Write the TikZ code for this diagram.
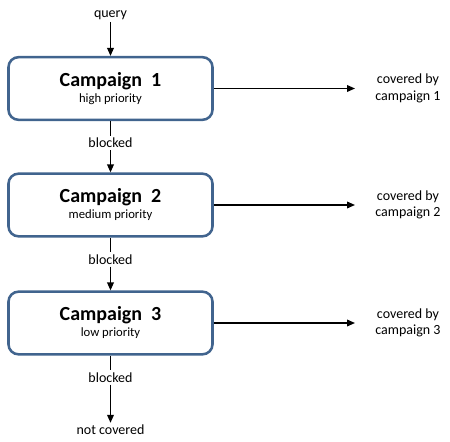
\documentclass[tikz,border=0pt]{standalone}
\usepackage{fontspec}
\setmainfont{Carlito}
\usetikzlibrary{arrows.meta,positioning}
\definecolor{frame}{RGB}{65,100,142}
\definecolor{ink}{RGB}{0,0,0}

\begin{document}
\begin{tikzpicture}[x=0.75pt,y=-0.75pt,
    campbox/.style={draw=frame,line width=1.9pt,rounded corners=7.5pt,fill=white,
      minimum width=153pt,minimum height=47pt,align=center,inner sep=0pt},
    lbl/.style={font=\fontsize{10.5}{12.5}\selectfont,inner sep=1.5pt,align=center},
    flow/.style={line width=1.1pt,ink},
    arr/.style={flow,-{Triangle[length=6pt,width=5pt]}}]
  \useasboundingbox (0,0) rectangle (450,442);
  % campaigns
  \foreach \i/\y/\p in {1/88.5/high priority,2/205/medium priority,3/323/low priority}{
    \node[campbox] (box\i) at (110.5,\y)
      {{\bfseries\fontsize{15}{16}\selectfont Campaign~~\i}\\[0pt]{\fontsize{9.5}{11}\selectfont \p}};
    \node[lbl] (cov\i) at (408,\y) {covered by\\campaign \i};
    \coordinate (end\i) at (355,\y);
    \draw[arr] (box\i.east) -- (end\i);
    \node[lbl] (blk\i) at (110.5,\y+54.5) {blocked};
    \draw[flow] (box\i.south) -- (blk\i.north);
  }
  \node[lbl] (query) at (110.5,15) {query};
  \node[lbl] (none) at (110.5,430) {not covered};
  % going down
  \draw[arr] (query.south) -- (box1.north);
  \draw[arr] (blk1.south) -- (box2.north);
  \draw[arr] (blk2.south) -- (box3.north);
  \draw[arr] (blk3.south) -- (none.north);
\end{tikzpicture}
\end{document}
